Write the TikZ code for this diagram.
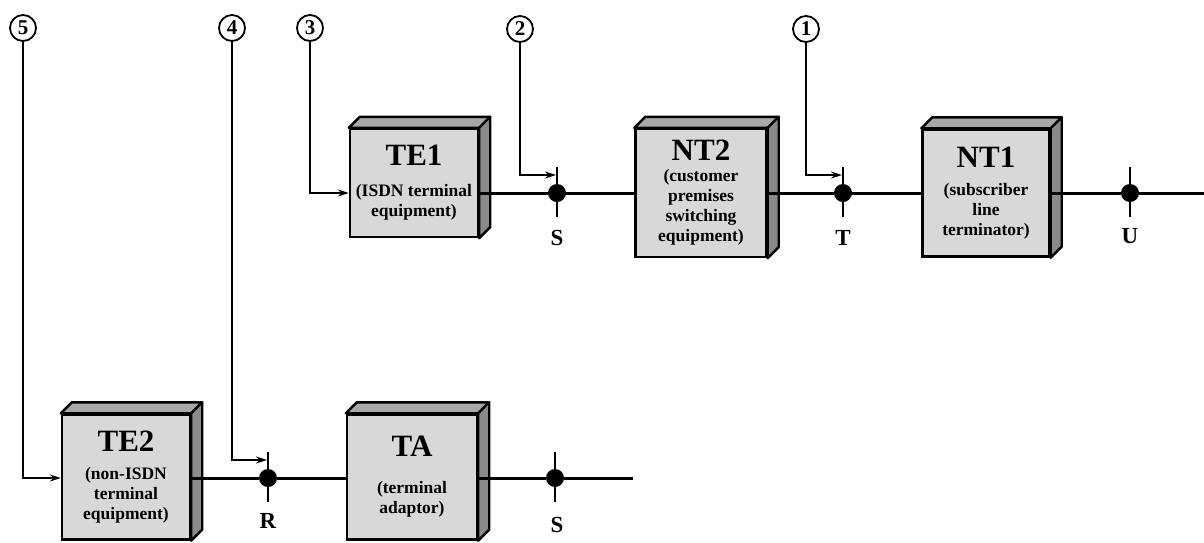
\documentclass[tikz,border=0pt]{standalone}
\usepackage{fontspec}
\setmainfont{Liberation Serif}
\usetikzlibrary{arrows.meta,calc}

\definecolor{faceGray}{RGB}{216,216,216}
\definecolor{topGray}{RGB}{168,168,168}
\definecolor{sideGray}{RGB}{138,138,138}
\newcommand{\boxhead}{\fontsize{31}{31}\selectfont}

\begin{document}
\begin{tikzpicture}[x=1pt,y=-1pt,
    box/.style={draw,line width=2.4pt,fill=faceGray,inner sep=0pt,align=center,
        font=\bfseries\fontsize{17.5}{20}\selectfont},
    dot/.style={circle,fill=black,inner sep=0pt,minimum size=18pt},
    num/.style={circle,draw,line width=1.8pt,inner sep=0pt,minimum size=26pt,
        font=\bfseries\fontsize{21}{21}\selectfont},
    wire/.style={line width=3pt},
    tick/.style={line width=1.7pt},
    callout/.style={line width=1.6pt,-{Stealth[length=11pt,width=7pt]}},
    ref/.style={font=\bfseries\fontsize{23}{23}\selectfont}]
    \useasboundingbox (0,0) rectangle (1204,542);

    % Upper row of boxes
    \node[box,minimum width=128pt,minimum height=108pt] (te1) at (414,183)
        {{\boxhead TE1}\\[11pt](ISDN terminal\\equipment)};
    \node[box,minimum width=131pt,minimum height=128pt] (nt2) at (701,193)
        {{\boxhead NT2}\\[1pt](customer\\premises\\switching\\equipment)};
    \node[box,minimum width=127pt,minimum height=127pt] (nt1) at (986,193)
        {{\boxhead NT1}\\[8pt](subscriber\\line\\terminator)};

    % Lower row of boxes
    \node[box,minimum width=128pt,minimum height=125pt] (te2) at (126,477)
        {{\boxhead TE2}\\[8pt](non-ISDN\\terminal\\equipment)};
    \node[box,minimum width=130pt,minimum height=125pt] (ta) at (412,477)
        {{\boxhead TA}\\[17pt](terminal\\adaptor)};

    % Top and side faces
    \foreach \b in {te1,nt2,nt1,te2,ta}{
        \filldraw[fill=topGray,line width=2.4pt,line join=round]
            (\b.north west) -- ++(11,-11) -- ($(\b.north east)+(11,-11)$)
            -- (\b.north east) -- cycle;
        \filldraw[fill=sideGray,line width=2.4pt,line join=round]
            (\b.north east) -- ++(11,-11) -- ($(\b.south east)+(11,-11)$)
            -- (\b.south east) -- cycle;
    }

    % Reference points
    \node[dot] (s1) at (557,193) {};
    \node[dot] (t) at (843,193) {};
    \node[dot] (u) at (1130,193) {};
    \node[dot] (r) at (268,478) {};
    \node[dot] (s2) at (555,478) {};
    \coordinate (uEnd) at (1204,193);
    \coordinate (sEnd) at (633,478);

    \foreach \p in {s1,t,u,r,s2}
        \draw[tick] ($(\p)+(0,-26)$) -- ($(\p)+(0,24)$);

    % Lines
    \draw[wire] (te1.east |- s1) -- (s1) -- (nt2.west |- s1);
    \draw[wire] (nt2.east |- t) -- (t) -- (nt1.west |- t);
    \draw[wire] (nt1.east |- u) -- (u) -- (uEnd);
    \draw[wire] (te2.east |- r) -- (r) -- (ta.west |- r);
    \draw[wire] (ta.east |- s2) -- (s2) -- (sEnd);

    % Labels
    \node[ref] (lS1) at (557,238) {S};
    \node[ref] (lT) at (843,238) {T};
    \node[ref] (lU) at (1130,236) {U};
    \node[ref] (lR) at (268,521) {R};
    \node[ref] (lS2) at (557,525) {S};

    % Numbered reference points
    \node[num] (c1) at (806,29) {1};
    \node[num] (c2) at (520,29) {2};
    \node[num] (c3) at (310,28) {3};
    \node[num] (c4) at (232,28) {4};
    \node[num] (c5) at (23,28) {5};
    \coordinate (a1) at (842,175);
    \coordinate (a2) at (556,175);
    \coordinate (a4) at (267,460);

    \draw[callout] (c1.south) |- (a1);
    \draw[callout] (c2.south) |- (a2);
    \draw[callout] (c3.south) |- (te1.west |- s1);
    \draw[callout] (c4.south) |- (a4);
    \draw[callout] (c5.south) |- (te2.west |- r);
\end{tikzpicture}
\end{document}
